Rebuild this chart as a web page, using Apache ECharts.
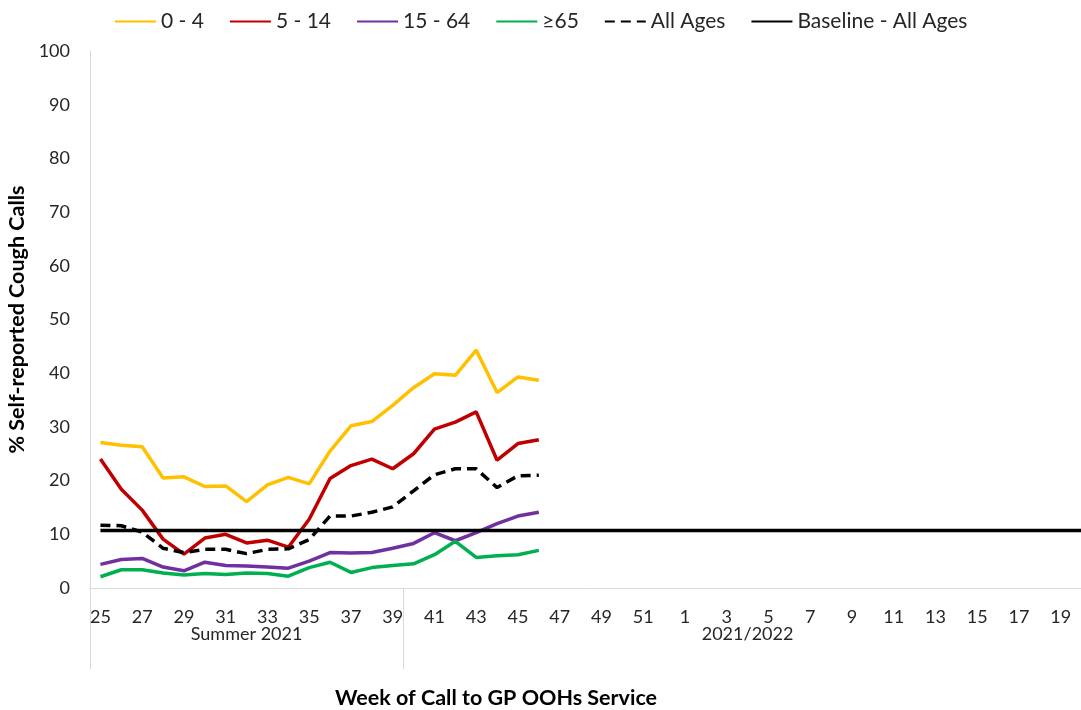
<!DOCTYPE html>
<html>
<head>
<meta charset="utf-8">
<script src="https://cdn.jsdelivr.net/npm/echarts@6/dist/echarts.min.js"></script>
<style>
html, body { margin: 0; padding: 0; background: #fff; }
#chart { width: 1081px; height: 710px; }
</style>
</head>
<body>
<div id="chart"></div>
<script>
// weeks of call, summer 2021 then season 2021/2022
var weeks = ['25', '26', '27', '28', '29', '30', '31', '32', '33', '34', '35', '36', '37', '38', '39',
	'40', '41', '42', '43', '44', '45', '46', '47', '48', '49', '50', '51', '52',
	'1', '2', '3', '4', '5', '6', '7', '8', '9', '10', '11', '12', '13', '14', '15', '16', '17', '18', '19', '20'];
var seasons = ['Summer 2021', '2021/2022'];
var seasonStart = [0, 15];   // index of first week in each season
var seasonLabelAt = [7, 31];  // index the season name sits on

var age0_4 = [27.1, 26.6, 26.3, 20.5, 20.7, 18.9, 19.0, 16.1, 19.2, 20.6, 19.4, 25.5, 30.2, 31.0, 34.0, 37.3, 39.9, 39.6, 44.3, 36.4, 39.3, 38.7];
var age5_14 = [24.0, 18.4, 14.5, 9.1, 6.3, 9.3, 10.0, 8.4, 8.9, 7.6, 12.8, 20.4, 22.8, 24.0, 22.2, 25.0, 29.6, 30.9, 32.8, 23.8, 26.9, 27.6];
var age15_64 = [4.4, 5.3, 5.5, 3.9, 3.2, 4.8, 4.2, 4.1, 3.9, 3.7, 5.0, 6.6, 6.5, 6.6, 7.4, 8.3, 10.3, 8.8, 10.3, 12.0, 13.4, 14.1];
var age65 = [2.1, 3.4, 3.4, 2.8, 2.4, 2.7, 2.5, 2.8, 2.7, 2.2, 3.8, 4.8, 2.9, 3.8, 4.2, 4.5, 6.2, 8.7, 5.7, 6.0, 6.2, 7.0];
var allAges = [11.7, 11.6, 10.4, 7.4, 6.6, 7.2, 7.2, 6.4, 7.2, 7.3, 9.0, 13.4, 13.4, 14.1, 15.1, 18.1, 21.1, 22.2, 22.2, 18.7, 20.9, 21.0];
var baselineAllAges = 10.7;

var font = 'Lato, "Liberation Sans", sans-serif';
var axisGrey = '#d9d9d9';
var textColor = '#262626';

var lineSeries = function(name, data, color, type) {
	return {
		name: name,
		type: 'line',
		data: data,
		symbol: 'none',
		silent: true,
		lineStyle: { color: color, width: 3.5, type: type || 'solid' },
		itemStyle: { color: color }
	};
};

var myChart = echarts.init(document.getElementById('chart'), null, { renderer: 'canvas' });
var option = {
	animation: false,
	textStyle: { fontFamily: font },
	title: {
		text: 'Week of Call to GP OOHs Service',
		left: 335,
		top: 687,
		padding: 0,
		textStyle: { fontFamily: font, fontSize: 21.5, fontWeight: 'bold', color: '#000' }
	},
	legend: {
		left: 114,
		top: 11,
		padding: 0,
		itemWidth: 41,
		itemHeight: 4,
		itemGap: 25,
		itemStyle: { opacity: 0 },
		textStyle: { fontFamily: font, fontSize: 21, color: textColor },
		data: ['0 - 4', '5 - 14', '15 - 64', '≥65', 'All Ages', 'Baseline - All Ages']
	},
	grid: { left: 90, top: 51, bottom: 122, width: 1002, outerBoundsMode: 'none' },
	xAxis: [{
		type: 'category',
		data: weeks,
		boundaryGap: true,
		axisLine: { lineStyle: { color: axisGrey, width: 1 } },
		axisTick: { show: false },
		axisLabel: { interval: 1, fontSize: 18, color: textColor, fontFamily: font, margin: 20 }
	}, {
		type: 'category',
		data: weeks,
		position: 'bottom',
		boundaryGap: true,
		axisLine: { show: false },
		axisTick: {
			show: true,
			length: 81,
			lineStyle: { color: axisGrey, width: 1 },
			interval: function(index) {
				return seasonStart.indexOf(index) >= 0;
			}
		},
		axisLabel: {
			margin: 37,
			fontSize: 18,
			color: textColor,
			fontFamily: font,
			interval: function(index) {
				return seasonLabelAt.indexOf(index) >= 0;
			},
			formatter: function(value, index) {
				var k = seasonLabelAt.indexOf(index);
				return k >= 0 ? seasons[k] : '';
			}
		}
	}],
	yAxis: {
		type: 'value',
		min: 0,
		max: 100,
		interval: 10,
		name: '% Self-reported Cough Calls',
		nameLocation: 'middle',
		nameRotate: 90,
		nameGap: 53,
		nameTextStyle: { fontFamily: font, fontSize: 21.5, fontWeight: 'bold', color: '#000' },
		axisLine: { show: true, lineStyle: { color: axisGrey, width: 1 } },
		axisTick: { show: false },
		splitLine: { show: false },
		axisLabel: { fontSize: 18, color: textColor, fontFamily: font, margin: 20 }
	},
	series: [
		lineSeries('0 - 4', age0_4, '#FFC000'),
		lineSeries('5 - 14', age5_14, '#C00000'),
		lineSeries('15 - 64', age15_64, '#7030A0'),
		lineSeries('≥65', age65, '#00B050'),
		lineSeries('All Ages', allAges, '#000000', [10, 6]),
		lineSeries('Baseline - All Ages', weeks.map(function() { return baselineAllAges; }), '#000000')
	]
};
myChart.setOption(option);
</script>
</body>
</html>
